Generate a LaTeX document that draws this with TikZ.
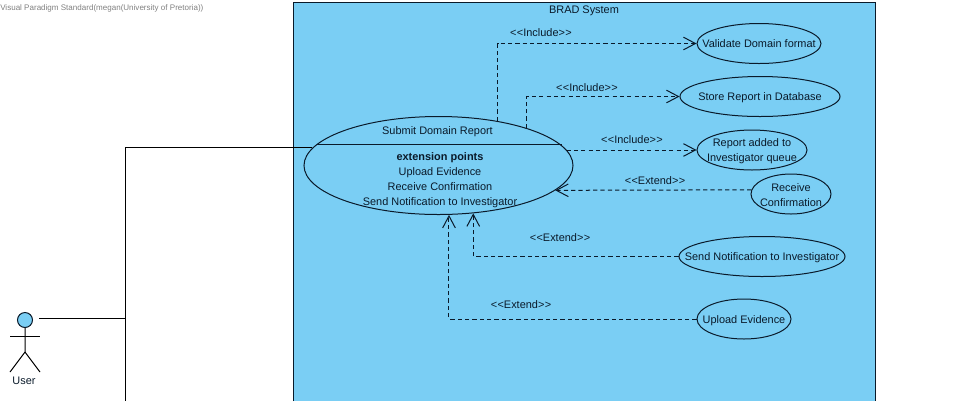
\documentclass[tikz,border=0pt]{standalone}
\usepackage{fontspec}
\setmainfont{Liberation Sans}
\usetikzlibrary{arrows.meta,shapes.geometric}
\definecolor{bradblue}{HTML}{7ACEF4}
\definecolor{inkline}{HTML}{0A1A2A}
\tikzset{>={Straight Barb[length=9pt,width=9.5pt]}}
\tikzset{
  usecase/.style={draw=inkline,ellipse,inner sep=0pt,line width=.75pt},
  lbl/.style={font=\fontsize{8.2}{11.25}\selectfont,text=inkline,inner sep=0pt,align=center,yshift=-.9pt},
  dep/.style={draw=inkline,line width=.75pt,dash pattern=on 3.2pt off 2.3pt,->},
  assoc/.style={draw=black,line width=.75pt}
}
\newcommand{\stereo}[1]{\mbox{<}\kern.3pt\mbox{<}#1\mbox{>}\kern.3pt\mbox{>}}

\begin{document}
\begin{tikzpicture}[x=.75pt,y=-.75pt]
\useasboundingbox (0,0) rectangle (975,401);
\node[lbl,anchor=west,text=gray,font=\fontsize{6.03}{8}\selectfont] (watermark) at (0,7) {Visual Paradigm Standard(megan(University of Pretoria))};
% system boundary
\draw[fill=bradblue,draw=inkline,line width=.75pt] (293.5,401) -- (293.5,2) -- (875.5,2) -- (875.5,401);
\node[lbl] (system) at (584,10) {BRAD System};
% use cases
\node[usecase,minimum width=201.75pt,minimum height=73.5pt] (main) at (438.5,165.5) {};
\node[usecase,minimum width=93pt,minimum height=30pt] (validate) at (759,43.5) {};
\node[usecase,minimum width=120pt,minimum height=30pt] (store) at (760,96.5) {};
\node[usecase,minimum width=82.5pt,minimum height=30pt] (report) at (752,150) {};
\node[usecase,minimum width=60pt,minimum height=30pt] (receive) at (791,194) {};
\node[usecase,minimum width=124.5pt,minimum height=30pt] (send) at (762,256.5) {};
\node[usecase,minimum width=70.5pt,minimum height=30pt] (upload) at (744,319) {};
\node[lbl] at (759,42.5) {Validate Domain format};
\node[lbl] at (store) {Store Report in Database};
\node[lbl] at (report) {Report added to\\Investigator queue};
\node[lbl] at (receive) {Receive\\Confirmation};
\node[lbl] at (send) {Send Notification to Investigator};
\node[lbl] at (upload) {Upload Evidence};
\node[lbl] (title) at (437.5,130) {Submit Domain Report};
\node[lbl] (points) at (440,178.5) {\textbf{extension points}\\Upload Evidence\\Receive Confirmation\\Send Notification to Investigator};
\coordinate (sep) at (438.5,144.5);
\draw[draw=inkline,line width=.75pt] (main.170.2 |- sep) -- (main.9.8 |- sep);
% actor
\node[circle,draw=inkline,fill=bradblue,minimum size=11.25pt,inner sep=0pt,line width=.75pt] (head) at (25,320) {};
\coordinate (hip) at (25,352);
\draw[assoc] (head) -- (hip) -- (10,372);
\draw[assoc] (hip) -- (40,372);
\draw[assoc] (10,336.5) -- (40,336.5);
\node[lbl] (user) at (24,379.5) {User};
% associations
\coordinate (userend) at (39,318.5);
\coordinate (trunk) at (125.5,318.5);
\coordinate (trunkend) at (125.5,401);
\draw[assoc] (userend) -- (trunk);
\draw[assoc] (main.172.3) -| (trunkend);
% includes and extends
\draw[dep] (main.37) |- (validate.west);
\draw[dep] (main.23.5) |- (store.west);
\draw[dep] (main.7.5 |- report.west) -- (report.west);
\draw[dep] (receive.174) -- (main.-12.2);
\draw[dep] (send.west) -| (main.-54.5);
\draw[dep] (upload.west) -| (main.-78.4);
\node[lbl] at (541,31) {\stereo{Include}};
\node[lbl] at (587,86.5) {\stereo{Include}};
\node[lbl] at (632,138) {\stereo{Include}};
\node[lbl] at (655,179) {\stereo{Extend}};
\node[lbl] at (560,236) {\stereo{Extend}};
\node[lbl] at (521,303) {\stereo{Extend}};
\end{tikzpicture}
\end{document}
